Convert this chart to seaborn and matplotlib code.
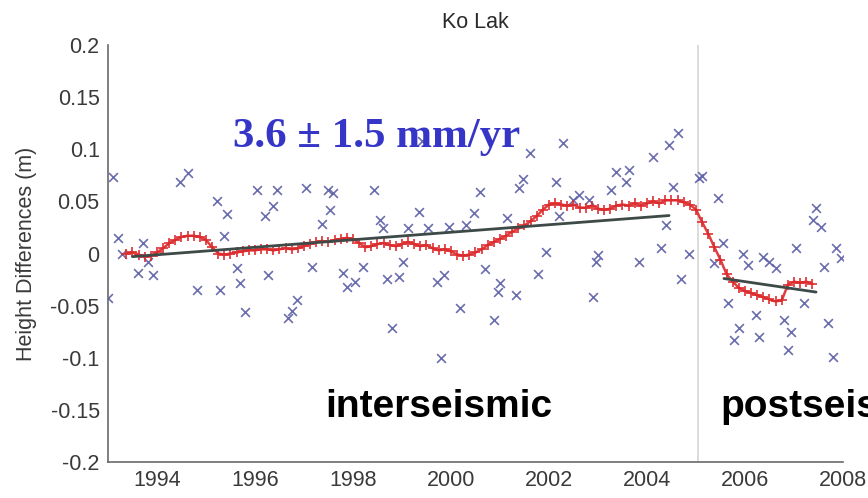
import matplotlib
matplotlib.use("Agg")
import matplotlib.pyplot as plt
import seaborn as sns
import pandas as pd

# Individual height-difference observations (decimal year, metres)
obs_year = [1993.00, 1993.10, 1993.20, 1993.29, 1993.61, 1993.72, 1993.82, 1993.92,
            1994.47, 1994.63, 1994.82,
            1995.23, 1995.29, 1995.37, 1995.43, 1995.64, 1995.70, 1995.80,
            1996.05, 1996.21, 1996.27, 1996.37, 1996.45, 1996.68, 1996.76, 1996.86,
            1997.05, 1997.17, 1997.37, 1997.48, 1997.54, 1997.60, 1997.80, 1997.88,
            1998.05, 1998.21, 1998.42, 1998.56, 1998.62, 1998.70, 1998.80, 1998.93,
            1999.03, 1999.13, 1999.34, 1999.40, 1999.54, 1999.72, 1999.79, 1999.85, 1999.95,
            2000.19, 2000.30, 2000.46, 2000.60, 2000.70, 2000.87, 2000.95,
            2001.01, 2001.15, 2001.32, 2001.38, 2001.46, 2001.62, 2001.77, 2001.93,
            2002.14, 2002.20, 2002.28, 2002.48, 2002.61, 2002.81, 2002.89, 2002.95, 2002.99,
            2003.26, 2003.36, 2003.57, 2003.63, 2003.83,
            2004.12, 2004.28, 2004.38, 2004.44, 2004.53, 2004.63, 2004.69, 2004.85,
            2005.06, 2005.12, 2005.36, 2005.45, 2005.55, 2005.65, 2005.77, 2005.88, 2005.96,
            2006.06, 2006.22, 2006.28, 2006.37, 2006.49, 2006.63, 2006.80, 2006.88, 2006.94,
            2007.04, 2007.20, 2007.39, 2007.45, 2007.55, 2007.61, 2007.69, 2007.80, 2007.86, 2007.96]
obs_height = [-0.043, 0.073, 0.015, 0.000, -0.019, 0.010, -0.008, -0.021,
              0.069, 0.077, -0.035,
              0.050, -0.035, 0.017, 0.038, -0.014, -0.028, -0.056,
              0.061, 0.036, -0.021, 0.046, 0.061, -0.062, -0.055, -0.045,
              0.063, -0.013, 0.028, 0.061, 0.042, 0.058, -0.019, -0.032,
              -0.027, -0.013, 0.061, 0.032, 0.024, -0.024, -0.071, -0.023,
              -0.008, 0.024, 0.040, 0.108, 0.024, -0.027, -0.100, -0.021, 0.025,
              -0.052, 0.027, 0.039, 0.059, -0.015, -0.064, -0.037,
              -0.028, 0.034, -0.040, 0.063, 0.071, 0.096, -0.020, 0.001,
              0.069, 0.036, 0.106, 0.051, 0.056, 0.051, -0.042, -0.008, -0.001,
              0.061, 0.078, 0.069, 0.080, -0.008,
              0.093, 0.005, 0.027, 0.104, 0.064, 0.116, -0.024, 0.000,
              0.072, 0.074, -0.009, 0.053, 0.010, -0.047, -0.083, -0.071, 0.000,
              -0.011, -0.059, -0.080, -0.003, -0.008, -0.014, -0.064, -0.093, -0.075,
              0.005, -0.047, 0.032, 0.044, 0.025, -0.013, -0.067, -0.099, 0.005, -0.004]

# Running mean of the observations
avg_year = [1993.375, 1993.5, 1993.625, 1993.75, 1993.875, 1994.0, 1994.125, 1994.25,
            1994.375, 1994.5, 1994.625, 1994.75, 1994.875, 1995.0, 1995.125, 1995.25,
            1995.375, 1995.5, 1995.625, 1995.75, 1995.875, 1996.0, 1996.125, 1996.25,
            1996.375, 1996.5, 1996.625, 1996.75, 1996.875, 1997.0, 1997.125, 1997.25,
            1997.375, 1997.5, 1997.625, 1997.75, 1997.875, 1998.0, 1998.125, 1998.25,
            1998.375, 1998.5, 1998.625, 1998.75, 1998.875, 1999.0, 1999.125, 1999.25,
            1999.375, 1999.5, 1999.625, 1999.75, 1999.875, 2000.0, 2000.125, 2000.25,
            2000.375, 2000.5, 2000.625, 2000.75, 2000.875, 2001.0, 2001.125, 2001.25,
            2001.375, 2001.5, 2001.625, 2001.75, 2001.875, 2002.0, 2002.125, 2002.25,
            2002.375, 2002.5, 2002.625, 2002.75, 2002.875, 2003.0, 2003.125, 2003.25,
            2003.375, 2003.5, 2003.625, 2003.75, 2003.875, 2004.0, 2004.125, 2004.25,
            2004.375, 2004.5, 2004.625, 2004.75, 2004.875, 2005.0, 2005.125, 2005.25,
            2005.375, 2005.5, 2005.625, 2005.75, 2005.875, 2006.0, 2006.125, 2006.25,
            2006.375, 2006.5, 2006.625, 2006.75, 2006.875, 2007.0, 2007.125, 2007.25,
            2007.375]
avg_height = [0.000, 0.001, -0.001, -0.003, -0.002, 0.001, 0.005, 0.010,
              0.013, 0.016, 0.017, 0.017, 0.016, 0.013, 0.006, 0.000,
              -0.001, 0.000, 0.001, 0.002, 0.003, 0.003, 0.004, 0.004,
              0.003, 0.004, 0.005, 0.004, 0.005, 0.007, 0.009, 0.011,
              0.012, 0.011, 0.013, 0.014, 0.015, 0.014, 0.010, 0.006,
              0.007, 0.009, 0.010, 0.008, 0.007, 0.009, 0.011, 0.009,
              0.007, 0.008, 0.005, 0.003, 0.004, 0.002, -0.001, -0.002,
              -0.001, 0.001, 0.004, 0.008, 0.011, 0.014, 0.017, 0.021,
              0.024, 0.027, 0.031, 0.036, 0.042, 0.047, 0.048, 0.047,
              0.046, 0.047, 0.044, 0.044, 0.046, 0.043, 0.042, 0.043,
              0.046, 0.047, 0.046, 0.048, 0.046, 0.048, 0.050, 0.048,
              0.051, 0.051, 0.051, 0.049, 0.047, 0.042, 0.030, 0.019,
              0.006, -0.006, -0.020, -0.027, -0.033, -0.036, -0.038, -0.040,
              -0.042, -0.044, -0.046, -0.045, -0.030, -0.027, -0.028, -0.027,
              -0.029]

# Linear fits: interseismic rate (mm/yr) and postseismic segment
inter_rate_mm = 3.6
inter_err_mm = 1.5
inter_span = [1993.5, 2004.45]
inter_start = -0.003
post_year = [2005.57, 2007.45]
post_height = [-0.024, -0.037]

quake_year = 2005.05

x_ticks = [1994, 1996, 1998, 2000, 2002, 2004, 2006, 2008]
y_ticks = [0.2, 0.15, 0.1, 0.05, 0, -0.05, -0.1, -0.15, -0.2]
y_tick_labels = ["0.2", "0.15", "0.1", "0.05", "0", "-0.05", "-0.1", "-0.15", "-0.2"]

sns.set_theme(style="white")
plt.rcParams["font.family"] = ["Liberation Sans", "DejaVu Sans"]

fig = plt.figure(figsize=(8.68, 4.98), dpi=100)
ax = fig.add_axes([0.1244, 0.0723, 0.8468, 0.8373])

ax.axvline(quake_year, color="#d9d9d9", lw=1.3, zorder=0)

obs = pd.DataFrame({"year": obs_year, "height": obs_height})
sns.scatterplot(data=obs, x="year", y="height", marker="x", color="#5a5ea6",
                s=40, linewidth=1.2, alpha=0.9, ax=ax, zorder=2, legend=False)

avg_color = "#dc2a2c"
avg = pd.DataFrame({"year": avg_year, "height": avg_height})
sns.lineplot(data=avg, x="year", y="height", color=avg_color, lw=1.8,
             marker="+", markersize=7.5, markeredgewidth=1.3,
             markeredgecolor=avg_color, markerfacecolor=avg_color, alpha=0.9,
             ax=ax, zorder=3, legend=False, errorbar=None)

fit = pd.DataFrame({
    "year": inter_span,
    "height": [inter_start,
               inter_start + inter_rate_mm / 1000 * (inter_span[1] - inter_span[0])],
})
sns.lineplot(data=fit, x="year", y="height", color="#3d4a48", lw=2.0, ax=ax,
             zorder=4, errorbar=None)
post = pd.DataFrame({"year": post_year, "height": post_height})
sns.lineplot(data=post, x="year", y="height", color="#3d4a48", lw=2.0, ax=ax,
             zorder=4, errorbar=None)

ax.set_xlim(1993, 2008)
ax.set_ylim(-0.2, 0.2)
ax.set_xticks(x_ticks)
ax.set_xticklabels([str(t) for t in x_ticks])
ax.set_yticks(y_ticks)
ax.set_yticklabels(y_tick_labels)
ax.tick_params(direction="in", length=5, width=1, colors="#5a5a5a",
               labelcolor="#3a3a3a", labelsize=15.5, pad=6)

for side in ("top", "right"):
    ax.spines[side].set_visible(False)
for side in ("left", "bottom"):
    ax.spines[side].set_color("#6a6a6a")
    ax.spines[side].set_linewidth(1.2)

ax.set_xlabel("")
ax.set_ylabel("Height Differences (m)", fontsize=15.5, color="#3a3a3a")
ax.yaxis.set_label_coords(-0.097, 0.5)
ax.set_title("Ko Lak", fontsize=15.5, color="#2a2a2a", pad=12)

ax.text(1995.55, 0.102, f"{inter_rate_mm} \u00b1 {inter_err_mm} mm/yr",
        family=["Liberation Serif", "DejaVu Serif"], fontweight="bold",
        fontsize=31, color="#3535c8", ha="left", va="baseline", zorder=5)
ax.text(1997.43, -0.157, "interseismic", family=["Liberation Sans", "DejaVu Sans"],
        fontweight="bold", fontsize=28, color="black", ha="left", va="baseline",
        zorder=5)
# The phase label runs past the right edge of the figure
ax.text(2005.49, -0.157, "postseismic", family=["Liberation Sans", "DejaVu Sans"],
        fontweight="bold", fontsize=28, color="black", ha="left", va="baseline",
        zorder=5, clip_on=False)

fig.savefig("out.png", dpi=100, facecolor="white")
